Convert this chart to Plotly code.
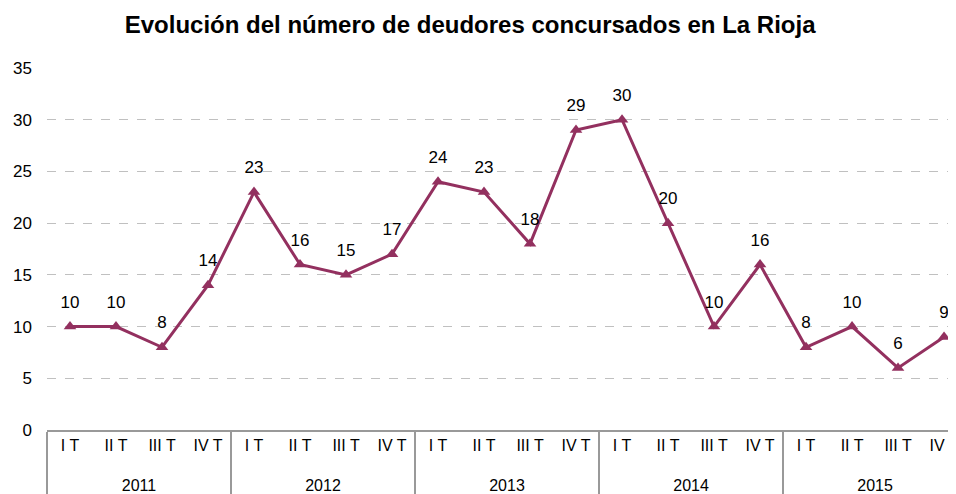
import plotly.graph_objects as go

years = ["2011"] * 4 + ["2012"] * 4 + ["2013"] * 4 + ["2014"] * 4 + ["2015"] * 4
quarters = ["I T", "II T", "III T", "IV T"] * 5
values = [10, 10, 8, 14, 23, 16, 15, 17, 24, 23, 18, 29, 30, 20, 10, 16, 8, 10, 6, 9]
y_ticks = [0, 5, 10, 15, 20, 25, 30, 35]

color = "#93305F"
font = "Liberation Sans, Arial, Helvetica, sans-serif"

# quarter labels get an empty second line so the year row sits lower
quarter_labels = [q + "<br> " for q in quarters]
x = [years, quarter_labels]

fig = go.Figure()
fig.add_trace(go.Scatter(
    x=x, y=values,
    mode="lines+markers",
    line=dict(color=color, width=3),
    marker=dict(symbol="triangle-up", size=11, color=color),
    cliponaxis=False,
    hoverinfo="skip",
))
fig.add_trace(go.Scatter(
    x=x, y=values,
    mode="markers+text",
    marker=dict(size=22, color="rgba(0,0,0,0)"),
    text=[str(v) for v in values],
    textposition="top center",
    textfont=dict(size=17, color="#000000", family=font),
    cliponaxis=False,
))

fig.update_layout(
    width=948, height=486,
    margin=dict(l=39, r=0, t=60, b=64),
    paper_bgcolor="white", plot_bgcolor="white",
    showlegend=False,
    font=dict(family=font, color="#000000"),
    title=dict(
        text="<b>Evolución del número de deudores concursados en La Rioja</b>",
        x=0.4875, xanchor="center", y=0.965, yanchor="middle",
        font=dict(size=24, family=font, color="#000000"),
    ),
    xaxis=dict(
        type="multicategory",
        range=[-0.5, 19.26],
        automargin=False,
        showline=True, linecolor="#999999", linewidth=2,
        showdividers=True, dividercolor="#999999", dividerwidth=2,
        tickfont=dict(size=16, family=font, color="#000000"),
        showgrid=False, zeroline=False,
    ),
    yaxis=dict(
        range=[0, 35],
        automargin=False,
        tickvals=y_ticks,
        showgrid=True, gridcolor="#C0C0C0", griddash="dash", gridwidth=1,
        zeroline=False, showline=False,
        tickfont=dict(size=17, family=font, color="#000000"),
        ticklabelstandoff=14,
    ),
)

fig.write_html("out.html")
